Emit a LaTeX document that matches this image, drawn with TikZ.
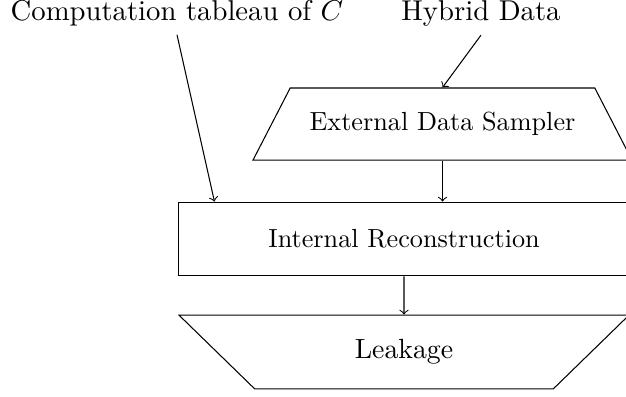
\documentclass[tikz,border=0pt]{standalone}
\usetikzlibrary{shapes.geometric}

\begin{document}
\begin{tikzpicture}[x=0.3817pt,y=-0.3817pt,
		lbl/.style={font=\fontsize{10.95}{13}\selectfont, anchor=base},
		trap/.style={draw, trapezium, trapezium stretches=true, inner sep=0pt},
		box/.style={draw, rectangle, inner sep=0pt, minimum width=172.5pt, minimum height=28.2pt}]
		\useasboundingbox (0,0) rectangle (626,396);

		\node [lbl] (tab) at (177,20) {Computation tableau of $C$};
		\node [lbl] (hyb) at (481,20) {Hybrid Data};

		\node [trap, trapezium angle=36, minimum width=144.7pt, minimum height=27.5pt] (ext) at (442.5,124) {External Data Sampler};
		\node [box] (rec) at (404,239) {Internal Reconstruction};
		\node [trap, trapezium angle=45, shape border rotate=180, minimum width=172.5pt, minimum height=28.2pt,
			font=\fontsize{10.6}{13}\selectfont] (leak) at (404,352) {Leakage};

		\draw [->] (tab.south) -- ([xshift=14.1pt]rec.north west);
		\draw [->] (hyb.south) -- (ext.north);
		\draw [->] (ext.south) -- (ext.south |- rec.north);
		\draw [->] (rec.south) -- (leak.north);

	\end{tikzpicture}
\end{document}
